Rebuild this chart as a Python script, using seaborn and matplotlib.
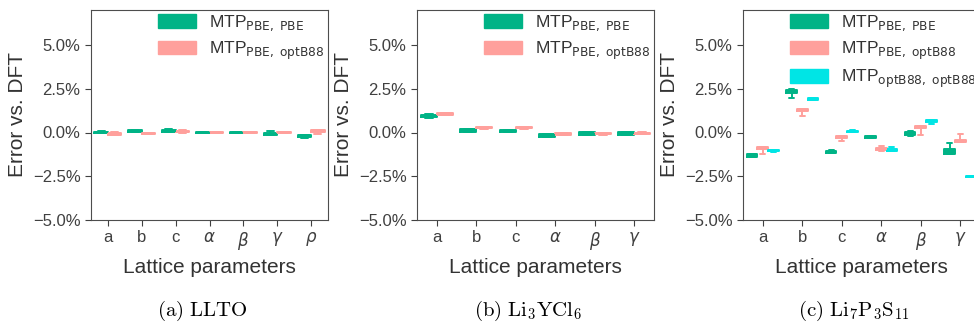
import numpy as np
import pandas as pd
import matplotlib
matplotlib.use("Agg")
import matplotlib.pyplot as plt
from matplotlib.patches import Patch
from matplotlib.ticker import PercentFormatter
import seaborn as sns

sns.set_style("ticks")
plt.rcParams['font.family'] = ['Liberation Sans', 'DejaVu Sans']

# model names and colours
models = [r"MTP$_{\mathrm{PBE,\ PBE}}$",
          r"MTP$_{\mathrm{PBE,\ optB88}}$",
          r"MTP$_{\mathrm{optB88,\ optB88}}$"]
colors = ["#00b386", "#ffa09c", "#00e5e5"]

params7 = ["a", "b", "c", r"$\alpha$", r"$\beta$", r"$\gamma$", r"$\rho$"]
params6 = params7[:6]

# error vs DFT (%), five values per box: min, q1, median, q3, max
# (a) LLTO
llto_pbe = [[-0.03, -0.02, 0.02, 0.05, 0.06],
            [0.03, 0.04, 0.08, 0.12, 0.13],
            [0.02, 0.04, 0.10, 0.16, 0.22],
            [-0.04, -0.03, 0.00, 0.03, 0.04],
            [-0.04, -0.03, 0.00, 0.02, 0.03],
            [-0.14, -0.13, -0.07, -0.01, 0.10],
            [-0.30, -0.28, -0.20, -0.14, -0.13]]
llto_opt = [[-0.15, -0.14, -0.07, 0.00, 0.01],
            [-0.10, -0.09, -0.05, -0.01, 0.00],
            [0.00, 0.01, 0.05, 0.09, 0.12],
            [-0.04, -0.03, 0.00, 0.02, 0.03],
            [-0.03, -0.02, 0.01, 0.04, 0.05],
            [-0.03, -0.02, 0.01, 0.04, 0.05],
            [-0.09, 0.04, 0.08, 0.12, 0.13]]

# (b) Li3YCl6
lycl_pbe = [[0.85, 0.87, 0.95, 1.02, 1.03],
            [0.03, 0.04, 0.11, 0.18, 0.19],
            [0.01, 0.02, 0.08, 0.14, 0.15],
            [-0.25, -0.24, -0.16, -0.08, -0.07],
            [-0.15, -0.14, -0.06, 0.02, 0.03],
            [-0.14, -0.13, -0.05, 0.03, 0.04]]
lycl_opt = [[0.98, 0.99, 1.04, 1.09, 1.10],
            [0.22, 0.23, 0.27, 0.31, 0.32],
            [0.22, 0.23, 0.27, 0.31, 0.32],
            [-0.15, -0.14, -0.10, -0.05, -0.04],
            [-0.12, -0.11, -0.07, -0.03, -0.02],
            [-0.09, -0.08, -0.04, 0.00, 0.01]]

# (c) Li7P3S11
lps_pbe = [[-1.42, -1.40, -1.32, -1.25, -1.23],
           [1.98, 2.25, 2.35, 2.45, 2.50],
           [-1.17, -1.15, -1.09, -1.03, -1.02],
           [-0.34, -0.32, -0.27, -0.21, -0.19],
           [-0.21, -0.15, -0.05, 0.05, 0.06],
           [-1.25, -1.21, -1.05, -0.92, -0.62]]
lps_opt = [[-1.21, -0.94, -0.89, -0.85, -0.83],
           [0.92, 1.25, 1.29, 1.33, 1.35],
           [-0.48, -0.33, -0.26, -0.20, -0.19],
           [-1.03, -1.01, -0.95, -0.89, -0.78],
           [-0.17, 0.25, 0.31, 0.36, 0.38],
           [-0.57, -0.55, -0.50, -0.44, -0.11]]
lps_optopt = [[-1.10, -1.08, -1.04, -0.99, -0.98],
              [1.87, 1.88, 1.92, 1.96, 1.98],
              [0.02, 0.03, 0.07, 0.11, 0.13],
              [-1.05, -1.03, -0.98, -0.93, -0.84],
              [0.51, 0.59, 0.65, 0.71, 0.73],
              [-2.56, -2.55, -2.51, -2.48, -2.47]]

captions = [r"$\mathrm{(a)\ LLTO}$",
            r"$\mathrm{(b)\ Li_3YCl_6}$",
            r"$\mathrm{(c)\ Li_7P_3S_{11}}$"]


def long_df(cats, series, names):
    rows = []
    for name, vals in zip(names, series):
        for cat, v in zip(cats, vals):
            for x in v:
                rows.append((cat, name, x))
    return pd.DataFrame(rows, columns=["param", "model", "err"])


def panel(ax, cats, series):
    names = models[:len(series)]
    pal = colors[:len(series)]
    df = long_df(cats, series, names)
    kw = dict(data=df, x="param", y="err", hue="model", order=cats,
              hue_order=names, palette=pal, whis=(0, 100), saturation=1,
              width=0.8, gap=0, legend=False, ax=ax)
    sns.boxplot(fill=True, linewidth=0, **kw)
    sns.boxplot(fill=False, linewidth=1.4, **kw)
    ax.set_ylim(-5, 7)
    ax.set_yticks([-5, -2.5, 0, 2.5, 5])
    ax.yaxis.set_major_formatter(PercentFormatter(decimals=1))
    ax.tick_params(labelsize=12, length=4, colors=".25")
    ax.set_xlabel("Lattice parameters", fontsize=15, color=".2")
    ax.set_ylabel("Error vs. DFT", fontsize=15, color=".2")
    for s in ax.spines.values():
        s.set_color(".3")
    handles = [Patch(facecolor=c, edgecolor=c, alpha=1) for c in pal]
    ax.legend(handles, names, loc="upper right", frameon=False, fontsize=12.5,
              handlelength=2.2, handleheight=0.8, labelspacing=0.36,
              borderaxespad=-0.2, handletextpad=0.75, labelcolor=".2")


fig = plt.figure(figsize=(9.74, 3.25), dpi=100)
W, H = 974, 325
lefts = [91, 417, 743]
axes = [fig.add_axes([l / W, (H - 220) / H, 237 / W, 210 / H]) for l in lefts]

panel(axes[0], params7, [llto_pbe, llto_opt])
panel(axes[1], params6, [lycl_pbe, lycl_opt])
panel(axes[2], params6, [lps_pbe, lps_opt, lps_optopt])

for l, cap in zip(lefts, captions):
    fig.text((l + 111) / W, 1 - 311 / H, cap, ha="center", va="center",
             fontsize=15, math_fontfamily="cm", color="k")

fig.savefig("out.png", dpi=100)
